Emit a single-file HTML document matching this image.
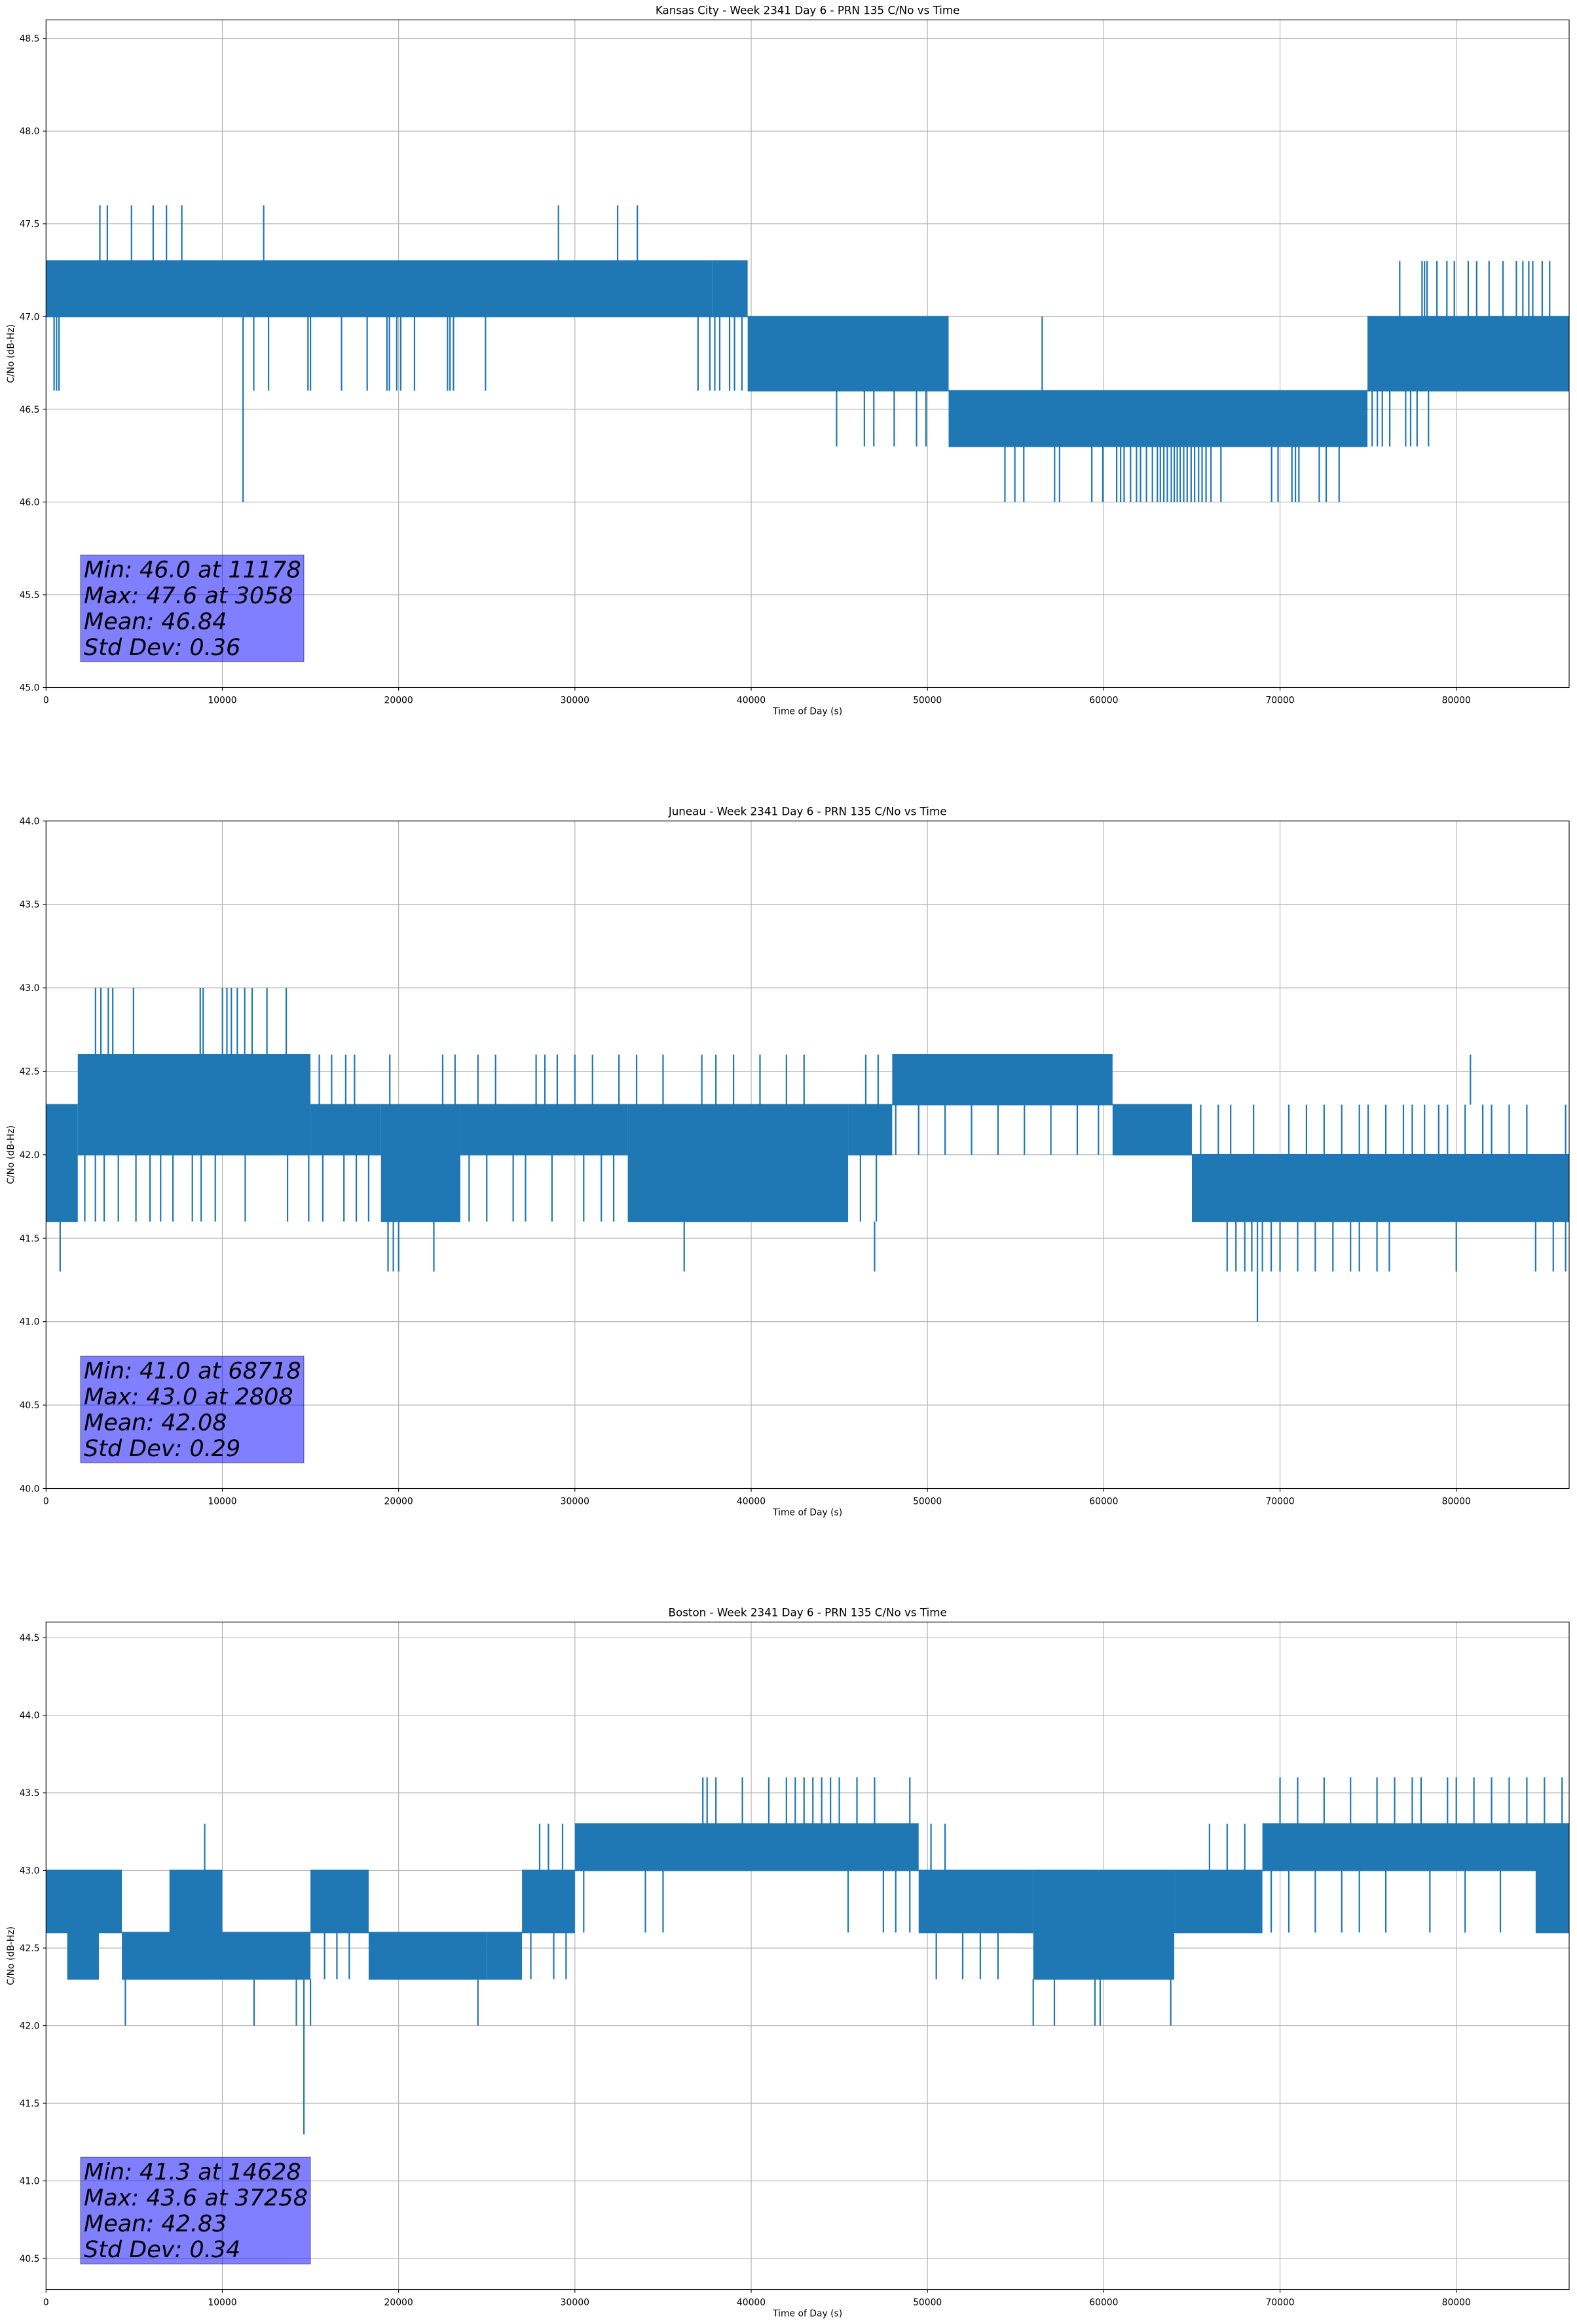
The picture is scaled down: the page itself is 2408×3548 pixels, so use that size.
<!DOCTYPE html>
<html>
<head>
<meta charset="utf-8">
<style>
  html, body { margin:0; padding:0; background:#fff; }
  svg { display:block; }
  text { font-family: "DejaVu Sans", "Liberation Sans", sans-serif; fill:#000; }
</style>
</head>
<body>
<svg id="fig" width="2408" height="3548" viewBox="0 0 2408 3548" xmlns="http://www.w3.org/2000/svg"></svg>
<script>
// ---------- Kansas City ----------
const kcBandStart = [0, 37800, 39800, 47300, 51200, 74960];
const kcBandEnd   = [37800, 39800, 47300, 51200, 74960, 86400];
const kcBandLow   = [47.0, 47.0, 46.6, 46.6, 46.3, 46.6];
const kcBandHigh  = [47.3, 47.3, 47.0, 47.0, 46.6, 47.0];
const kcSpikeLow  = [47.3, 46.6, 46.0, 46.3, 46.6, 46.0, 46.3, 47.0];
const kcSpikeHigh = [47.6, 47.0, 47.0, 46.6, 47.0, 46.3, 46.6, 47.3];
const kcSpikeTimes = [
  [3055,3477,4847,6078,6832,7702,12346,29067,32424,33543],
  [456,596,736,11784,12623,14861,15001,16763,18217,19336,19476,19895,20119,20902,22776,22916,23112,24930,36984,37656,37936,38215,38775,39055,39475],
  [11178],
  [44845,46422,46957,48113,49380,49915],
  [56507],
  [54394,54957,55464,57211,57493,59324,59944,60733,60958,61155,61522,61860,62085,62423,62761,63043,63212,63409,63606,63832,64001,64170,64339,64536,64733,64958,65155,65381,65578,65803,66085,66648,69521,69887,70676,70874,71071,72225,72619,73351],
  [75225,75521,75803,76225,77127,77408,77774,78422],
  [76790,78056,78197,78338,78901,79465,79887,80676,81155,81859,82648,83408,83774,84112,84337,84872,85295]
];
const kcYTicks = [45.0,45.5,46.0,46.5,47.0,47.5,48.0,48.5];
const kcStats = ["Min: 46.0 at 11178","Max: 47.6 at 3058","Mean: 46.84","Std Dev: 0.36"];

// ---------- Juneau ----------
const juBandStart = [0, 1800, 15000, 19000, 23500, 33000, 45500, 48000, 60500, 65000];
const juBandEnd   = [1800, 15000, 19000, 23500, 33000, 45500, 48000, 60500, 65000, 86400];
const juBandLow   = [41.6, 42.0, 42.0, 41.6, 42.0, 41.6, 42.0, 42.3, 42.0, 41.6];
const juBandHigh  = [42.3, 42.6, 42.3, 42.3, 42.3, 42.3, 42.3, 42.6, 42.3, 42.0];
const juSpikeLow  = [42.6, 42.3, 41.6, 41.3, 41.0, 42.0];
const juSpikeHigh = [43.0, 42.6, 42.0, 41.6, 41.6, 42.3];
const juSpikeTimes = [
  [2808,3112,3532,3785,4962,8747,8915,10008,10260,10513,10849,11270,11690,12531,13625],
  [15500,16200,17000,17500,19500,22500,23200,24500,25500,27800,28300,29000,30000,31000,32500,33500,35000,37200,38000,39000,40500,42000,43000,46500,47200,80800],
  [2200,2800,3300,4100,5100,5900,6500,7200,8300,8800,9600,11300,13700,14900,15700,16900,17600,18300,24000,25000,26500,27200,28700,30500,31500,32200,46200,47100],
  [800,19400,19700,20000,22000,36200,47000,67000,67500,68000,68400,69000,69500,70000,71000,72000,73000,74000,74500,75500,76200,80000,84500,85500,86200],
  [68718],
  [48200,49500,51000,52500,54000,55500,57000,58500,59700,65500,66500,67200,68500,70500,71500,72500,73500,74500,75000,76000,77000,77500,78200,79000,79500,80500,81500,82000,83000,84000,86200]
];
const juYTicks = [40.0,40.5,41.0,41.5,42.0,42.5,43.0,43.5,44.0];
const juStats = ["Min: 41.0 at 68718","Max: 43.0 at 2808","Mean: 42.08","Std Dev: 0.29"];

// ---------- Boston ----------
const boBandStart = [0, 1200, 4300, 7000, 10000, 15000, 18300, 25000, 27000, 30000, 49500, 56000, 64000, 69000, 84500];
const boBandEnd   = [4300, 3000, 10000, 10000, 15000, 18300, 25000, 27000, 30000, 49500, 56000, 64000, 69000, 86400, 86400];
const boBandLow   = [42.6, 42.3, 42.3, 42.6, 42.3, 42.6, 42.3, 42.3, 42.6, 43.0, 42.6, 42.3, 42.6, 43.0, 42.6];
const boBandHigh  = [43.0, 42.6, 42.6, 43.0, 42.6, 43.0, 42.6, 42.6, 43.0, 43.3, 43.0, 43.0, 43.0, 43.3, 43.3];
const boSpikeLow  = [43.3, 43.0, 42.0, 41.3, 42.6, 42.3];
const boSpikeHigh = [43.6, 43.3, 42.3, 42.3, 43.0, 42.6];
const boSpikeTimes = [
  [37258,37500,38000,39500,41000,42000,42500,43000,43500,44000,44500,45000,46000,47000,49000,70000,71000,72500,74000,75500,76500,77500,78000,79500,80000,81000,82000,83000,84000,85000,86000],
  [9000,28000,28500,29300,50200,51000,66000,67000,68000],
  [4500,11800,14200,15000,24500,56000,57200,59500,59800,63800],
  [14628],
  [30500,34000,35000,45500,47500,48200,49000,69500,70500,72000,73500,74500,76000,78500,80500,82500],
  [15800,16500,17200,27500,28800,29500,50500,52000,53000,54000]
];
const boYTicks = [40.5,41.0,41.5,42.0,42.5,43.0,43.5,44.0,44.5];
const boStats = ["Min: 41.3 at 14628","Max: 43.6 at 37258","Mean: 42.83","Std Dev: 0.34"];

const xTicks = [0,10000,20000,30000,40000,50000,60000,70000,80000];

const NS = "http://www.w3.org/2000/svg";
const fig = document.getElementById('fig');
const AX_L = 70.3, AX_R = 2396, AX_H = 1019.2, X_MAX = 86400;

function mk(tag, attrs, parent) {
  const e = document.createElementNS(NS, tag);
  for (const k in attrs) e.setAttribute(k, attrs[k]);
  parent.appendChild(e);
  return e;
}

function drawChart(name, top, yMin, yMax, title, yTicks, bStart, bEnd, bLow, bHigh, sLow, sHigh, sTimes, stats, boxW) {
  const bottom = top + AX_H;
  const xs = t => AX_L + (t / X_MAX) * (AX_R - AX_L);
  const ys = v => bottom - (v - yMin) / (yMax - yMin) * AX_H;

  const g = mk('g', {}, fig);
  
  

  const grid = mk('g', {stroke:'#b0b0b0', 'stroke-width':'1.1'}, g);
  
  
  xTicks.forEach(t => mk('line', {x1:xs(t), x2:xs(t), y1:top, y2:bottom}, grid));
  yTicks.forEach(v => mk('line', {x1:AX_L, x2:AX_R, y1:ys(v), y2:ys(v)}, grid));

  const series = mk('g', {fill:'#1f77b4', stroke:'#1f77b4'}, g);
  
  
  for (let i = 0; i < bStart.length; i++) {
    const r = mk('rect', {x:xs(bStart[i]), y:ys(bHigh[i]) - 1, width:xs(bEnd[i]) - xs(bStart[i]), height:ys(bLow[i]) - ys(bHigh[i]) + 2, stroke:'none'}, series);
    
    
  }
  for (let j = 0; j < sTimes.length; j++) {
    sTimes[j].forEach(t => {
      const l = mk('line', {x1:xs(t), x2:xs(t), y1:ys(sLow[j]), y2:ys(sHigh[j]), 'stroke-width':'2.2'}, series);
      
      
    });
  }

  const sp = mk('rect', {x:AX_L, y:top, width:AX_R - AX_L, height:AX_H, fill:'none', stroke:'#000', 'stroke-width':'1.1'}, g);
  
  

  const tk = mk('g', {stroke:'#000', 'stroke-width':'1.1'}, g);
  xTicks.forEach(t => mk('line', {x1:xs(t), x2:xs(t), y1:bottom, y2:bottom + 4.9}, tk));
  yTicks.forEach(v => mk('line', {x1:AX_L - 4.9, x2:AX_L, y1:ys(v), y2:ys(v)}, tk));
  xTicks.forEach(t => {
    const tx = mk('text', {x:xs(t), y:bottom + 24, 'font-size':'13.9', 'text-anchor':'middle'}, g);
    tx.textContent = String(t);
    
    
  });
  yTicks.forEach(v => {
    const tx = mk('text', {x:AX_L - 9.8, y:ys(v) + 5, 'font-size':'13.9', 'text-anchor':'end'}, g);
    tx.textContent = v.toFixed(1);
    
    
  });

  const tt = mk('text', {x:(AX_L + AX_R) / 2, y:top - 9, 'font-size':'16.7', 'text-anchor':'middle'}, g);
  tt.textContent = title;
  
  
  const xl = mk('text', {x:(AX_L + AX_R) / 2, y:bottom + 41, 'font-size':'13.9', 'text-anchor':'middle'}, g);
  xl.textContent = 'Time of Day (s)';
  
  
  const cy = top + AX_H / 2;
  const yl = mk('text', {x:21, y:cy, 'font-size':'13.9', 'text-anchor':'middle', transform:'rotate(-90 21 ' + cy + ')'}, g);
  yl.textContent = 'C/No (dB-Hz)';
  
  

  const bt = top + 817;
  const box = mk('rect', {x:123, y:bt, width:boxW, height:163, fill:'#0000ff', 'fill-opacity':'0.5', stroke:'#000', 'stroke-opacity':'0.5', 'stroke-width':'1.1'}, g);
  
  
  stats.forEach((s, i) => {
    const st = mk('text', {x:128, y:bt + 34 + i * 39.5, 'font-size':'35', 'font-style':'italic'}, g);
    st.textContent = s;
    
    
  });
}

drawChart('kansas-city', 30.3, 45.0, 48.6, 'Kansas City - Week 2341 Day 6 - PRN 135 C/No vs Time', kcYTicks,
  kcBandStart, kcBandEnd, kcBandLow, kcBandHigh, kcSpikeLow, kcSpikeHigh, kcSpikeTimes, kcStats, 341);
drawChart('juneau', 1253.3, 40.0, 44.0, 'Juneau - Week 2341 Day 6 - PRN 135 C/No vs Time', juYTicks,
  juBandStart, juBandEnd, juBandLow, juBandHigh, juSpikeLow, juSpikeHigh, juSpikeTimes, juStats, 341);
drawChart('boston', 2476.3, 40.3, 44.6, 'Boston - Week 2341 Day 6 - PRN 135 C/No vs Time', boYTicks,
  boBandStart, boBandEnd, boBandLow, boBandHigh, boSpikeLow, boSpikeHigh, boSpikeTimes, boStats, 351);
</script>
</body>
</html>
